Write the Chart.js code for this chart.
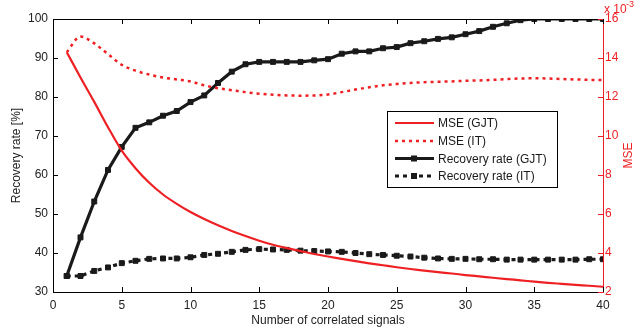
<!DOCTYPE html>
<html>
<head>
<meta charset="utf-8">
<script src="https://cdn.jsdelivr.net/npm/chart.js@4.4.0/dist/chart.umd.min.js"></script>
<style>
  html, body { margin: 0; padding: 0; background: #fff; }
  .chart-container { position: relative; width: 636px; height: 334px; }
</style>
</head>
<body>
<div class="chart-container"><canvas id="chart"></canvas></div>
<script>
// datos
const signals = [1, 2, 3, 4, 5, 6, 7, 8, 9, 10, 11, 12, 13, 14, 15, 16, 17, 18, 19, 20,
  21, 22, 23, 24, 25, 26, 27, 28, 29, 30, 31, 32, 33, 34, 35, 36, 37, 38, 39, 40];

// MSE en unidades de 10^-3
const mseGJT = [14.3, 13.0, 11.75, 10.45, 9.25, 8.35, 7.6, 7.0, 6.52, 6.1, 5.74, 5.42, 5.13, 4.87, 4.63,
  4.42, 4.25, 4.1, 3.95, 3.82, 3.7, 3.58, 3.47, 3.37, 3.27, 3.18, 3.1, 3.02, 2.95, 2.87,
  2.8, 2.73, 2.66, 2.6, 2.53, 2.47, 2.42, 2.37, 2.32, 2.27];
const mseIT = [14.3, 15.1, 14.75, 14.2, 13.65, 13.35, 13.15, 13.0, 12.9, 12.8, 12.6, 12.45, 12.35, 12.25, 12.17,
  12.12, 12.08, 12.07, 12.08, 12.13, 12.25, 12.38, 12.5, 12.6, 12.67, 12.72, 12.76, 12.78, 12.8, 12.83,
  12.85, 12.88, 12.92, 12.95, 12.96, 12.95, 12.92, 12.9, 12.88, 12.87];

// tasa de recuperacion en %
const recoveryGJT = [34.1, 44.0, 53.2, 61.3, 67.2, 72.1, 73.5, 75.2, 76.4, 78.7, 80.4, 83.6, 86.5, 88.4, 89.0,
  89.0, 89.0, 89.0, 89.4, 89.7, 91.1, 91.7, 91.7, 92.5, 92.8, 93.8, 94.3, 94.9, 95.3, 96.1,
  96.9, 98.0, 98.9, 99.7, 100, 100, 100, 100, 100, 100];
const recoveryIT = [34.1, 34.1, 35.4, 36.3, 37.4, 38.0, 38.5, 38.6, 38.6, 38.9, 39.5, 39.8, 40.3, 40.8, 41.0,
  40.9, 40.8, 40.6, 40.5, 40.4, 40.3, 40.0, 39.7, 39.5, 39.3, 39.1, 38.8, 38.6, 38.5, 38.5,
  38.4, 38.4, 38.3, 38.3, 38.3, 38.3, 38.3, 38.3, 38.4, 38.4];

const xTicks = [0, 5, 10, 15, 20, 25, 30, 35, 40];
const recoveryTicks = [30, 40, 50, 60, 70, 80, 90, 100];
const mseTicks = [2, 4, 6, 8, 10, 12, 14, 16];

const RED = "#ee2024";
const BLACK = "#1a1a1a";
const FONT = "'Liberation Sans', Arial, Helvetica, sans-serif";

const toPoints = (ys) => signals.map((x, i) => ({ x: x, y: ys[i] }));

// ticks hacia adentro, borde superior, exponente y titulo derecho
const boxPlugin = {
  id: "box",
  afterDraw(chart) {
    const { ctx, chartArea: a, scales } = chart;
    ctx.save();
    ctx.lineWidth = 1;
    ctx.strokeStyle = "#000";
    ctx.beginPath();
    ctx.moveTo(a.left, a.top + 0.5);
    ctx.lineTo(a.right, a.top + 0.5);
    xTicks.forEach((v) => {
      const px = Math.round(scales.x.getPixelForValue(v)) + 0.5;
      ctx.moveTo(px, a.bottom);
      ctx.lineTo(px, a.bottom - 5);
      ctx.moveTo(px, a.top);
      ctx.lineTo(px, a.top + 5);
    });
    recoveryTicks.forEach((v) => {
      const py = Math.round(scales.y.getPixelForValue(v)) + 0.5;
      ctx.moveTo(a.left, py);
      ctx.lineTo(a.left + 5, py);
    });
    ctx.stroke();

    ctx.strokeStyle = RED;
    ctx.beginPath();
    mseTicks.forEach((v) => {
      const py = Math.round(scales.y1.getPixelForValue(v)) + 0.5;
      ctx.moveTo(a.right, py);
      ctx.lineTo(a.right - 5, py);
    });
    ctx.stroke();

    ctx.fillStyle = RED;
    ctx.font = "12px " + FONT;
    ctx.textAlign = "left";
    ctx.textBaseline = "alphabetic";
    ctx.fillText("x 10", a.right + 1, 13);
    ctx.font = "9px " + FONT;
    ctx.fillText("-3", a.right + 23, 7);

    ctx.font = "12px " + FONT;
    ctx.translate(629, (a.top + a.bottom) / 2);
    ctx.rotate(-Math.PI / 2);
    ctx.textAlign = "center";
    ctx.textBaseline = "middle";
    ctx.fillText("MSE", 0, 0);
    ctx.restore();
  },
};

// leyenda dentro del area del grafico
const legendPlugin = {
  id: "insideLegend",
  afterDraw(chart) {
    const { ctx } = chart;
    const bx = 387, by = 111, bw = 170, bh = 76;
    ctx.save();
    ctx.fillStyle = "#fff";
    ctx.fillRect(bx, by, bw, bh);
    ctx.strokeStyle = "#000";
    ctx.lineWidth = 1;
    ctx.strokeRect(bx + 0.5, by + 0.5, bw, bh);
    const rows = [123, 141, 158.5, 176];
    chart.data.datasets.forEach((ds, i) => {
      const y = rows[i];
      ctx.strokeStyle = ds.borderColor;
      ctx.lineWidth = ds.borderWidth;
      ctx.setLineDash(ds.borderDash || []);
      ctx.beginPath();
      ctx.moveTo(395, y);
      ctx.lineTo(434, y);
      ctx.stroke();
      ctx.setLineDash([]);
      if (ds.pointRadius > 0) {
        ctx.fillStyle = ds.borderColor;
        ctx.fillRect(411, y - 3, 6, 6);
      }
      ctx.fillStyle = BLACK;
      ctx.font = "12px " + FONT;
      ctx.textAlign = "left";
      ctx.textBaseline = "middle";
      ctx.fillText(ds.label, 438, y + 1);
    });
    ctx.restore();
  },
};

const data = {
  datasets: [
    {
      label: "MSE (GJT)",
      data: toPoints(mseGJT),
      yAxisID: "y1",
      borderColor: RED,
      borderWidth: 2.2,
      pointRadius: 0,
      cubicInterpolationMode: "monotone",
    },
    {
      label: "MSE (IT)",
      data: toPoints(mseIT),
      yAxisID: "y1",
      borderColor: RED,
      borderWidth: 2.5,
      borderDash: [3, 4],
      pointRadius: 0,
      cubicInterpolationMode: "monotone",
    },
    {
      label: "Recovery rate (GJT)",
      data: toPoints(recoveryGJT),
      yAxisID: "y",
      borderColor: BLACK,
      backgroundColor: BLACK,
      borderWidth: 3.2,
      pointStyle: "rect",
      pointRadius: 3.5,
      pointBorderWidth: 1,
      tension: 0,
    },
    {
      label: "Recovery rate (IT)",
      data: toPoints(recoveryIT),
      yAxisID: "y",
      borderColor: BLACK,
      backgroundColor: BLACK,
      borderWidth: 3.2,
      borderDash: [4, 4],
      pointStyle: "rect",
      pointRadius: 3.5,
      pointBorderWidth: 1,
      tension: 0,
    },
  ],
};

const options = {
  responsive: true,
  maintainAspectRatio: false,
  animation: false,
  layout: { padding: { top: 19 } },
  plugins: {
    legend: { display: false },
    tooltip: { enabled: false },
  },
  scales: {
    x: {
      type: "linear",
      min: 0,
      max: 40,
      afterBuildTicks: (s) => { s.ticks = xTicks.map((v) => ({ value: v })); },
      afterFit: (s) => { s.height = 42; },
      grid: { display: false, drawTicks: false },
      border: { display: true, color: "#000", width: 1 },
      ticks: { color: "#222", font: { family: FONT, size: 12 }, padding: 6, maxRotation: 0 },
      title: {
        display: true,
        text: "Number of correlated signals",
        color: "#222",
        font: { family: FONT, size: 12 },
        padding: { top: 0, bottom: 6 },
      },
    },
    y: {
      position: "left",
      min: 30,
      max: 100,
      afterBuildTicks: (s) => { s.ticks = recoveryTicks.map((v) => ({ value: v })); },
      afterFit: (s) => { s.width = 53; },
      grid: { display: false, drawTicks: false },
      border: { display: true, color: "#000", width: 1 },
      ticks: { color: "#222", font: { family: FONT, size: 12 }, padding: 5 },
      title: {
        display: true,
        text: "Recovery rate [%]",
        color: "#222",
        font: { family: FONT, size: 12 },
        padding: { top: 9, bottom: 0 },
      },
    },
    y1: {
      position: "right",
      min: 2,
      max: 16,
      afterBuildTicks: (s) => { s.ticks = mseTicks.map((v) => ({ value: v })); },
      afterFit: (s) => { s.width = 33; },
      grid: { display: false, drawTicks: false },
      border: { display: true, color: RED, width: 1 },
      ticks: { color: RED, font: { family: FONT, size: 12 }, padding: 2 },
    },
  },
};

new Chart(document.getElementById("chart"), {
  type: "line",
  data: data,
  options: options,
  plugins: [boxPlugin, legendPlugin],
});
</script>
</body>
</html>
